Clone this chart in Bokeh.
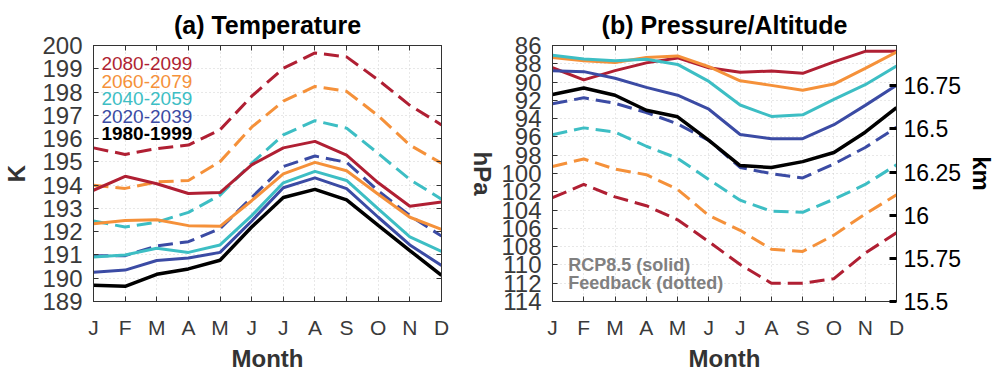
from bokeh.plotting import figure
from bokeh.models import Range1d, LinearAxis, FixedTicker, Label, CustomJSTickFormatter
from bokeh.layouts import row
from bokeh.embed import file_html
from bokeh.resources import INLINE

months = list(range(1, 13))
month_labels = ["J", "F", "M", "A", "M", "J", "J", "A", "S", "O", "N", "D"]
periods = ["2080-2099", "2060-2079", "2040-2059", "2020-2039", "1980-1999"]
period_colors = ["#b01f33", "#f5913a", "#3dbec4", "#3b4ba4", "#000000"]

# (a) Temperature, K
temp_rcp_2080 = [193.78, 194.38, 194.06, 193.64, 193.68, 194.87, 195.60, 195.88, 195.29, 194.10, 193.09, 193.28]
temp_rcp_2060 = [192.34, 192.48, 192.51, 192.26, 192.23, 193.33, 194.48, 194.98, 194.62, 193.61, 192.62, 192.10]
temp_rcp_2040 = [190.91, 191.00, 191.29, 191.11, 191.43, 192.69, 194.10, 194.59, 194.20, 192.98, 191.78, 191.15]
temp_rcp_2020 = [190.26, 190.35, 190.76, 190.87, 191.11, 192.46, 193.89, 194.31, 193.85, 192.62, 191.43, 190.55]
temp_base_1980 = [189.70, 189.65, 190.17, 190.40, 190.77, 192.20, 193.47, 193.82, 193.37, 192.27, 191.19, 190.12]
temp_fb_2080 = [195.60, 195.32, 195.57, 195.72, 196.38, 197.82, 199.02, 199.68, 199.51, 198.52, 197.43, 196.59]
temp_fb_2060 = [194.00, 193.86, 194.14, 194.20, 195.01, 196.49, 197.61, 198.24, 198.03, 196.98, 195.72, 194.94]
temp_fb_2040 = [192.46, 192.20, 192.41, 192.83, 193.57, 194.94, 196.16, 196.77, 196.45, 195.36, 194.24, 193.40]
temp_fb_2020 = [190.97, 190.97, 191.39, 191.57, 192.13, 193.47, 194.80, 195.25, 194.98, 193.75, 192.69, 191.81]

# (b) Pressure, hPa
pres_rcp_2080 = [88.43, 89.76, 88.75, 87.90, 87.36, 88.43, 88.93, 88.79, 89.04, 87.79, 86.64, 86.64]
pres_rcp_2060 = [87.32, 87.68, 87.86, 87.32, 87.14, 88.32, 89.86, 90.36, 90.90, 90.22, 88.50, 86.72]
pres_rcp_2040 = [87.07, 87.47, 87.68, 87.50, 88.07, 89.93, 92.51, 93.76, 93.58, 91.90, 90.29, 88.25]
pres_rcp_2020 = [88.75, 88.86, 89.58, 90.58, 91.44, 92.97, 95.73, 96.19, 96.19, 94.66, 92.55, 90.36]
pres_base_1980 = [91.36, 90.65, 91.44, 93.08, 93.80, 96.37, 99.13, 99.34, 98.70, 97.70, 95.48, 92.80]
pres_fb_2080 = [102.63, 101.20, 102.56, 103.52, 105.06, 107.46, 109.96, 112.00, 112.00, 111.50, 108.71, 106.49]
pres_fb_2060 = [99.23, 98.41, 99.52, 100.13, 101.74, 104.60, 106.21, 108.28, 108.53, 106.74, 104.42, 102.34]
pres_fb_2040 = [95.76, 95.01, 95.48, 97.02, 98.34, 100.66, 102.92, 104.13, 104.24, 102.81, 101.20, 99.05]
pres_fb_2020 = [92.37, 91.72, 92.33, 93.33, 94.58, 96.37, 99.34, 100.02, 100.48, 98.95, 97.16, 94.94]

temp_ticks = list(range(189, 201))
pres_ticks = list(range(86, 115, 2))
km_ticks = [15.5, 15.75, 16.0, 16.25, 16.5, 16.75]

FONT = "Liberation Sans"
TICK_COLOR = "#3a3a3a"
FRAME = "#333333"
RED, ORANGE, CYAN, BLUE, BLACK = period_colors
DASH = "15 7"

month_fmt = CustomJSTickFormatter(args=dict(labels=month_labels), code="return labels[Math.round(tick) - 1];")


def style_axis(ax, ticks, fmt=None, size="24px"):
    ax.ticker = FixedTicker(ticks=ticks)
    if fmt is not None:
        ax.formatter = fmt
    ax.major_tick_in = 5
    ax.major_tick_out = 0
    ax.minor_tick_in = 0
    ax.minor_tick_out = 0
    ax.axis_line_color = FRAME
    ax.major_tick_line_color = FRAME
    ax.major_label_text_font = FONT
    ax.major_label_text_color = TICK_COLOR
    ax.major_label_text_font_size = size
    ax.axis_label_text_font = FONT
    ax.axis_label_text_font_style = "bold"
    ax.axis_label_text_color = "#333333"
    ax.axis_label_text_font_size = "24px"


def base_fig(title, y_range, mbl, mbr, width):
    p = figure(width=width, height=374, x_range=Range1d(1, 12), y_range=y_range,
               output_backend="svg", toolbar_location=None,
               min_border_left=mbl, min_border_right=mbr, min_border_top=45, min_border_bottom=68)
    p.title.text = title
    p.title.align = "center"
    p.title.text_font = FONT
    p.title.text_font_size = "25px"
    p.title.text_font_style = "bold"
    p.title.text_color = "#000000"
    p.title.standoff = 14
    p.outline_line_color = FRAME
    p.background_fill_color = "white"
    p.border_fill_color = "white"
    for g in (p.xgrid, p.ygrid):
        g.grid_line_color = "#d0d0d0"
        g.grid_line_dash = "1 3"
        g.grid_line_width = 1
    return p


def setup_x(p):
    ax = p.xaxis[0]
    style_axis(ax, months, month_fmt, size="21px")
    ax.axis_label = "Month"
    ax.major_label_standoff = 14
    ax.axis_label_standoff = 3
    top = LinearAxis()
    style_axis(top, months, size="0px")
    top.major_label_standoff = 0
    p.add_layout(top, "above")
    p.xgrid.ticker = FixedTicker(ticks=months)


# ---------- panel (a)
p1 = base_fig("(a) Temperature", Range1d(189, 200), 93, 57, 498)
style_axis(p1.yaxis[0], temp_ticks)
p1.yaxis[0].axis_label = "K"
p1.yaxis[0].major_label_standoff = 11
p1.yaxis[0].axis_label_standoff = 9
p1.ygrid.ticker = FixedTicker(ticks=temp_ticks)
setup_x(p1)

right1 = LinearAxis(axis_label="hPa")
style_axis(right1, temp_ticks, size="0px")
right1.major_label_standoff = 0
right1.axis_label_standoff = 27
p1.add_layout(right1, "right")

temp_fb = [temp_fb_2080, temp_fb_2060, temp_fb_2040, temp_fb_2020]
temp_rcp = [temp_rcp_2080, temp_rcp_2060, temp_rcp_2040, temp_rcp_2020, temp_base_1980]
for vals, c in zip(temp_fb, period_colors[:4]):
    p1.line(months, vals, line_color=c, line_width=3, line_dash=DASH)
for vals, c in zip(temp_rcp, period_colors):
    p1.line(months, vals, line_color=c, line_width=3.5 if c == BLACK else 3)

legend_y = [199.22, 198.45, 197.71, 196.93, 196.2]
for txt, c, yy in zip(periods, period_colors, legend_y):
    p1.add_layout(Label(x=1.25, y=yy, text=txt, text_color=c, text_font=FONT, text_font_size="19px",
                        text_baseline="middle", text_font_style="bold" if c == BLACK else "normal"))

# ---------- panel (b)
p2 = base_fig("(b) Pressure/Altitude", Range1d(114, 86), 53, 96, 500)
style_axis(p2.yaxis[0], pres_ticks)
p2.yaxis[0].major_label_standoff = 11
p2.ygrid.ticker = FixedTicker(ticks=pres_ticks)
setup_x(p2)

p2.extra_y_ranges = {"km": Range1d(15.5, 16.983)}
km_axis = LinearAxis(y_range_name="km", axis_label="km")
style_axis(km_axis, km_ticks, CustomJSTickFormatter(code="return String(tick);"), size="23px")
km_axis.major_tick_in = 7
km_axis.major_tick_line_width = 3
km_axis.major_tick_line_color = "#000000"
km_axis.major_label_text_color = "#000000"
km_axis.axis_label_text_color = "#000000"
km_axis.major_label_standoff = 7
km_axis.axis_label_standoff = 4
p2.add_layout(km_axis, "right")

pres_fb = [pres_fb_2080, pres_fb_2060, pres_fb_2040, pres_fb_2020]
pres_rcp = [pres_rcp_2080, pres_rcp_2060, pres_rcp_2040, pres_rcp_2020, pres_base_1980]
for vals, c in zip(pres_fb, period_colors[:4]):
    p2.line(months, vals, line_color=c, line_width=3, line_dash=DASH)
for vals, c in zip(pres_rcp, period_colors):
    p2.line(months, vals, line_color=c, line_width=3.5 if c == BLACK else 3)

for txt, yy in [("RCP8.5 (solid)", 110.0), ("Feedback (dotted)", 112.0)]:
    p2.add_layout(Label(x=1.5, y=yy, text=txt, text_color="#808080", text_font=FONT,
                        text_font_size="18px", text_font_style="bold", text_baseline="middle"))

layout = row(p1, p2)
open("out.html", "w").write(file_html(layout, INLINE))
